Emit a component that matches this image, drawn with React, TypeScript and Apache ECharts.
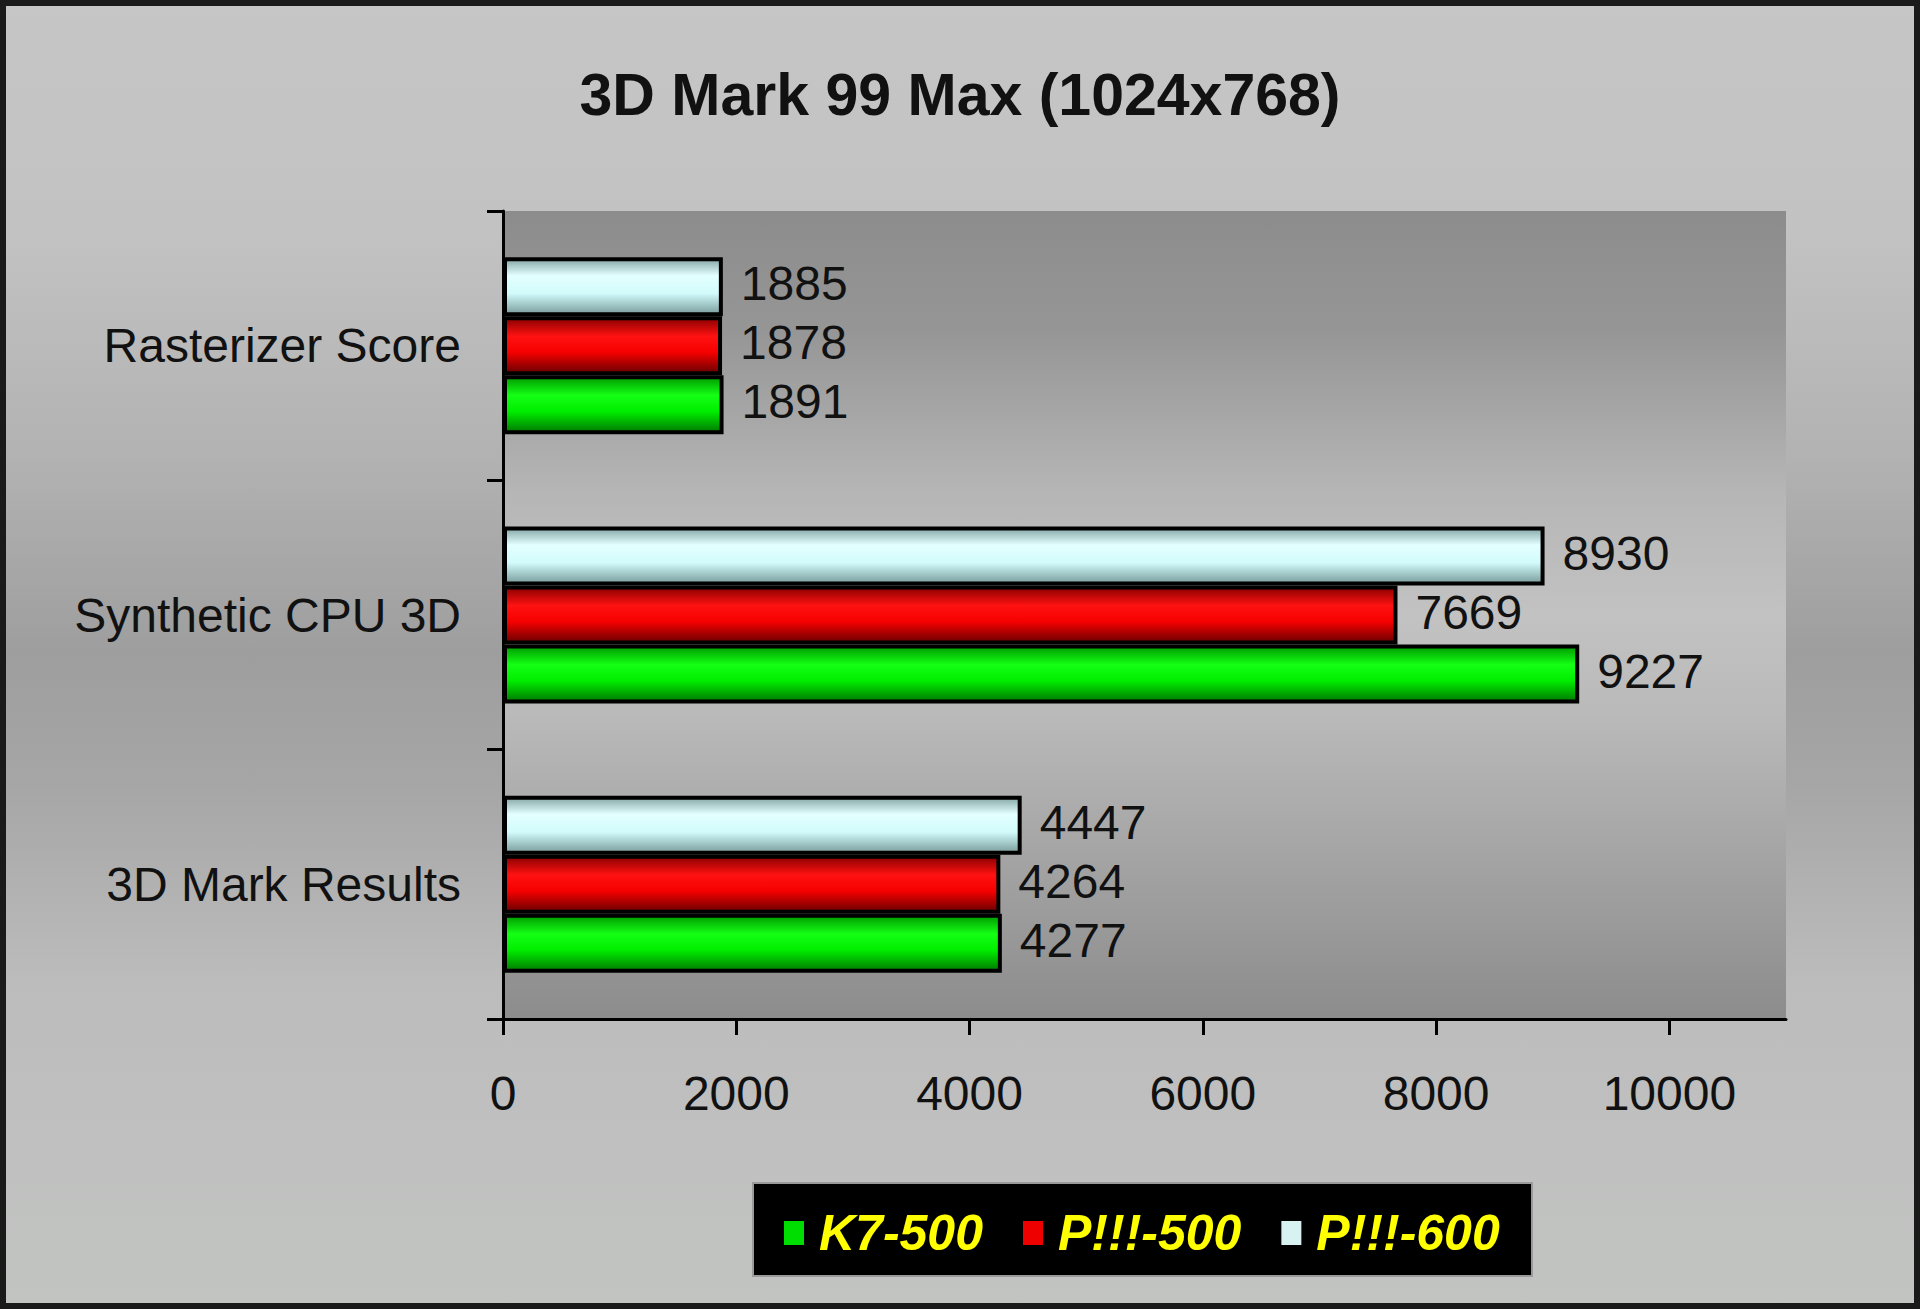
import React, { useEffect, useRef } from "react";
import * as echarts from "echarts";

const categories = ["3D Mark Results", "Synthetic CPU 3D", "Rasterizer Score"];
const k7_500 = [4277, 9227, 1891];
const p3_500 = [4264, 7669, 1878];
const p3_600 = [4447, 8930, 1885];
const xTicks = [0, 2000, 4000, 6000, 8000, 10000];
const legendNames = ["K7-500", "P!!!-500", "P!!!-600"];

const FONT = "'Liberation Sans', Arial, Helvetica, sans-serif";

function grad(stops: [number, string][]) {
  return new echarts.graphic.LinearGradient(
    0,
    0,
    0,
    1,
    stops.map(([offset, color]) => ({ offset, color }))
  );
}

export default function App() {
  const ref = useRef<HTMLDivElement>(null);

  useEffect(() => {
    if (!ref.current) return;
    const chart = echarts.init(ref.current, null, { renderer: "svg" });

    const cyan = grad([
      [0, "#86a8a8"],
      [0.3, "#e4ffff"],
      [0.62, "#d2fbfb"],
      [1, "#7a9c9c"],
    ]);
    const red = grad([
      [0, "#8a0000"],
      [0.33, "#ff1212"],
      [0.62, "#f60000"],
      [1, "#6a0000"],
    ]);
    const green = grad([
      [0, "#009a00"],
      [0.33, "#14ff14"],
      [0.62, "#00ee00"],
      [1, "#007a00"],
    ]);

    const valueLabel = {
      show: true,
      position: "right",
      distance: 18,
      fontSize: 48,
      color: "#111",
      fontFamily: FONT,
      offset: [0, -3],
    };

    const barCommon = {
      type: "bar",
      barWidth: 59,
      barGap: "0%",
      label: valueLabel,
    };

    chart.setOption({
      animation: false,
      backgroundColor: "transparent",
      title: {
        text: "3D Mark 99 Max (1024x768)",
        left: "center",
        top: 60,
        textStyle: {
          fontFamily: FONT,
          fontSize: 59,
          fontWeight: "bold",
          color: "#111",
        },
      },
      graphic: [
        {
          type: "rect",
          z: -10,
          shape: { x: 0, y: 0, width: 1920, height: 1309 },
          style: {
            fill: grad([
              [0, "#c6c6c6"],
              [0.18, "#c2c2c2"],
              [0.35, "#b2b2b2"],
              [0.5, "#9e9e9e"],
              [0.6, "#a6a6a6"],
              [0.75, "#bcbcbc"],
              [1, "#c2c4c2"],
            ]),
          },
          silent: true,
        },
        {
          type: "rect",
          z: -5,
          shape: { x: 753, y: 1183, width: 779, height: 93 },
          style: { fill: "#000", stroke: "#9a9a9a", lineWidth: 2 },
          silent: true,
        },
        {
          type: "rect",
          z: 100,
          shape: { x: 3, y: 3, width: 1914, height: 1303 },
          style: { fill: "none", stroke: "#1a1a1a", lineWidth: 6 },
          silent: true,
        },
      ],
      legend: {
        left: 779,
        top: 1200,
        icon: "rect",
        itemWidth: 20,
        itemHeight: 24,
        itemGap: 40,
        selectedMode: false,
        textStyle: {
          color: "#ffff00",
          fontSize: 50,
          fontWeight: "bold",
          fontStyle: "italic",
          fontFamily: FONT,
          lineHeight: 56,
          padding: [0, 0, 0, 10],
        },
        data: [
          { name: legendNames[0], itemStyle: { color: "#00dd00", borderWidth: 0 } },
          { name: legendNames[1], itemStyle: { color: "#ee0000", borderWidth: 0 } },
          { name: legendNames[2], itemStyle: { color: "#d8f2f2", borderWidth: 0 } },
        ],
      },
      grid: {
        left: 503,
        top: 211,
        width: 1283,
        height: 808,
        show: true,
        borderWidth: 0,
        backgroundColor: grad([
          [0, "#8c8c8c"],
          [0.15, "#969696"],
          [0.35, "#b6b6b6"],
          [0.5, "#c2c2c2"],
          [0.62, "#bababa"],
          [0.8, "#a4a4a4"],
          [1, "#8c8c8c"],
        ]),
      },
      xAxis: {
        type: "value",
        min: 0,
        max: 11000,
        interval: 2000,
        splitLine: { show: false },
        axisLine: { show: true, lineStyle: { color: "#000", width: 3 } },
        axisTick: {
          show: true,
          length: 16,
          customValues: xTicks,
          lineStyle: { color: "#000", width: 3 },
        },
        axisLabel: {
          customValues: xTicks,
          formatter: (v: number) => String(v),
          fontSize: 48,
          color: "#111",
          fontFamily: FONT,
          margin: 50,
        },
      },
      yAxis: {
        type: "category",
        data: categories,
        axisLine: { show: true, lineStyle: { color: "#000", width: 3 } },
        axisTick: { show: true, length: 16, lineStyle: { color: "#000", width: 3 } },
        axisLabel: {
          fontSize: 48,
          color: "#111",
          fontFamily: FONT,
          margin: 42,
        },
        splitLine: { show: false },
      },
      series: [
        {
          ...barCommon,
          name: legendNames[2],
          data: p3_600,
          itemStyle: { color: cyan, borderColor: "#000", borderWidth: 4 },
        },
        {
          ...barCommon,
          name: legendNames[1],
          data: p3_500,
          itemStyle: { color: red, borderColor: "#000", borderWidth: 4 },
        },
        {
          ...barCommon,
          name: legendNames[0],
          data: k7_500,
          itemStyle: { color: green, borderColor: "#000", borderWidth: 4 },
        },
      ],
    });

    return () => {
      chart.dispose();
    };
  }, []);

  return (
    <div
      ref={ref}
      style={{ position: "absolute", left: 0, top: 0, width: 1920, height: 1309 }}
    />
  );
}
